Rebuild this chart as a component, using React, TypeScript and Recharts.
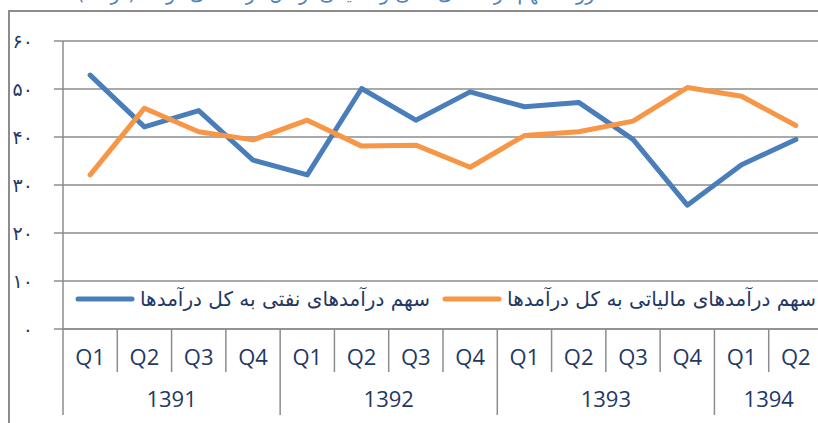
import React from 'react';
import { LineChart, Line, XAxis, YAxis, CartesianGrid } from 'recharts';

const years = ['1391', '1392', '1393', '1394'];
const quarterNames = ['Q1', 'Q2', 'Q3', 'Q4'];
// share of oil revenue in total revenue (%)
const oilShare = [52.9, 42.1, 45.5, 35.2, 32.1, 50.1, 43.5, 49.4, 46.3, 47.2, 39.5, 25.8, 34.2, 39.5];
// share of tax revenue in total revenue (%)
const taxShare = [32.1, 46.0, 41.1, 39.4, 43.5, 38.1, 38.3, 33.7, 40.3, 41.1, 43.3, 50.3, 48.5, 42.4];
const yTicks = [0, 10, 20, 30, 40, 50, 60];
const persianDigits = ['۰', '۱', '۲', '۳', '۴', '۵', '۶', '۷', '۸', '۹'];

const oilLabel = 'سهم درآمدهای نفتی به کل درآمدها';
const taxLabel = 'سهم درآمدهای مالیاتی به کل درآمدها';
const title = 'روند سهم درآمدهای نفتی و مالیاتی از کل درآمدهای دولت (درصد)';

const categories = years
  .flatMap((year) => quarterNames.map((q) => ({ year, q })))
  .slice(0, oilShare.length);

const data = categories.map((c, i) => ({
  key: `${c.year}-${c.q}`,
  q: c.q,
  year: c.year,
  oil: oilShare[i],
  tax: taxShare[i],
}));

const W = 840;
const H = 423;
const LEFT = 63;
const TOP = 41;
const PLOT_W = 760;
const PLOT_H = 288;
const X_AXIS_H = 90;
const AXIS_Y = TOP + PLOT_H;
const BAND = PLOT_W / data.length;

const GRID = '#8C8C8C';
const TEXT = '#1F3864';
const BLUE = '#4A7EBB';
const ORANGE = '#F79646';

const toPersian = (n: number) => String(n).replace(/\d/g, (d) => persianDigits[+d]);

const YTick = (props: any) => {
  const { y, payload } = props;
  return (
    <text x={33} y={y} dy={7} textAnchor="end" fill={TEXT} fontSize={19} fontFamily="DejaVu Sans">
      {toPersian(payload.value)}
    </text>
  );
};

const XTick = (props: any) => {
  const { x, index } = props;
  const left = x - BAND / 2;
  const yearStart = index % 4 === 0;
  const groupLen = Math.min(4, data.length - index);
  const last = index === data.length - 1;
  return (
    <g>
      <line x1={left} x2={left} y1={AXIS_Y} y2={AXIS_Y + (yearStart ? 86 : 43)} stroke={GRID} strokeWidth={1.5} />
      {last && (
        <line x1={x + BAND / 2} x2={x + BAND / 2} y1={AXIS_Y} y2={AXIS_Y + 86} stroke={GRID} strokeWidth={1.5} />
      )}
      <text x={x} y={AXIS_Y + 36} textAnchor="middle" fill={TEXT} fontSize={22} fontFamily="Open Sans">
        {data[index].q}
      </text>
      {yearStart && (
        <text x={left + (groupLen * BAND) / 2} y={AXIS_Y + 78} textAnchor="middle" fill={TEXT} fontSize={22} fontFamily="Open Sans">
          {data[index].year}
        </text>
      )}
    </g>
  );
};

const LegendSwatch = ({ color }: { color: string }) => (
  <svg width={60} height={8} style={{ marginRight: 5 }}>
    <line x1={3} x2={57} y1={4} y2={4} stroke={color} strokeWidth={5} strokeLinecap="round" />
  </svg>
);

const ChartLegend = () => (
  <div
    style={{
      position: 'absolute',
      left: 75,
      top: 287,
      display: 'flex',
      alignItems: 'center',
      fontFamily: 'DejaVu Sans',
      fontSize: 20,
      color: TEXT,
      whiteSpace: 'nowrap',
    }}
  >
    <LegendSwatch color={BLUE} />
    <span style={{ marginRight: 12 }}>{oilLabel}</span>
    <LegendSwatch color={ORANGE} />
    <span>{taxLabel}</span>
  </div>
);

export default function App() {
  return (
    <div style={{ position: 'fixed', left: 0, top: 0, width: 818, height: 423, overflow: 'hidden', background: '#fff' }}>
      <div
        style={{
          position: 'absolute',
          left: 77,
          width: 376,
          top: -19,
          textAlign: 'center',
          fontFamily: 'DejaVu Sans',
          fontSize: 19,
          lineHeight: '24px',
          color: '#4F81BD',
          whiteSpace: 'nowrap',
        }}
      >
        {title}
      </div>
      <div
        style={{
          position: 'absolute',
          left: 8,
          top: 10,
          width: 900,
          height: 500,
          borderLeft: `2px solid ${GRID}`,
          borderTop: `2px solid ${GRID}`,
        }}
      />
      <div style={{ position: 'absolute', left: 0, top: 0 }}>
        <LineChart
          width={W}
          height={H}
          data={data}
          margin={{ top: TOP, right: W - LEFT - PLOT_W, left: 0, bottom: H - TOP - PLOT_H - X_AXIS_H }}
        >
          <CartesianGrid vertical={false} stroke={GRID} strokeWidth={1.5} />
          <XAxis
            dataKey="key"
            interval={0}
            height={X_AXIS_H}
            padding={{ left: BAND / 2, right: BAND / 2 }}
            axisLine={{ stroke: GRID, strokeWidth: 1.5 }}
            tickLine={false}
            tick={XTick}
          />
          <YAxis
            width={LEFT}
            domain={[0, 60]}
            ticks={yTicks}
            interval={0}
            axisLine={{ stroke: GRID, strokeWidth: 1.5 }}
            tickLine={{ stroke: GRID, strokeWidth: 1.5 }}
            tickSize={9}
            tick={YTick}
          />
          <Line
            type="linear"
            dataKey="oil"
            name={oilLabel}
            stroke={BLUE}
            strokeWidth={5}
            strokeLinecap="round"
            strokeLinejoin="round"
            dot={false}
            activeDot={false}
            isAnimationActive={false}
          />
          <Line
            type="linear"
            dataKey="tax"
            name={taxLabel}
            stroke={ORANGE}
            strokeWidth={5}
            strokeLinecap="round"
            strokeLinejoin="round"
            dot={false}
            activeDot={false}
            isAnimationActive={false}
          />
        </LineChart>
      </div>
      <ChartLegend />
    </div>
  );
}
